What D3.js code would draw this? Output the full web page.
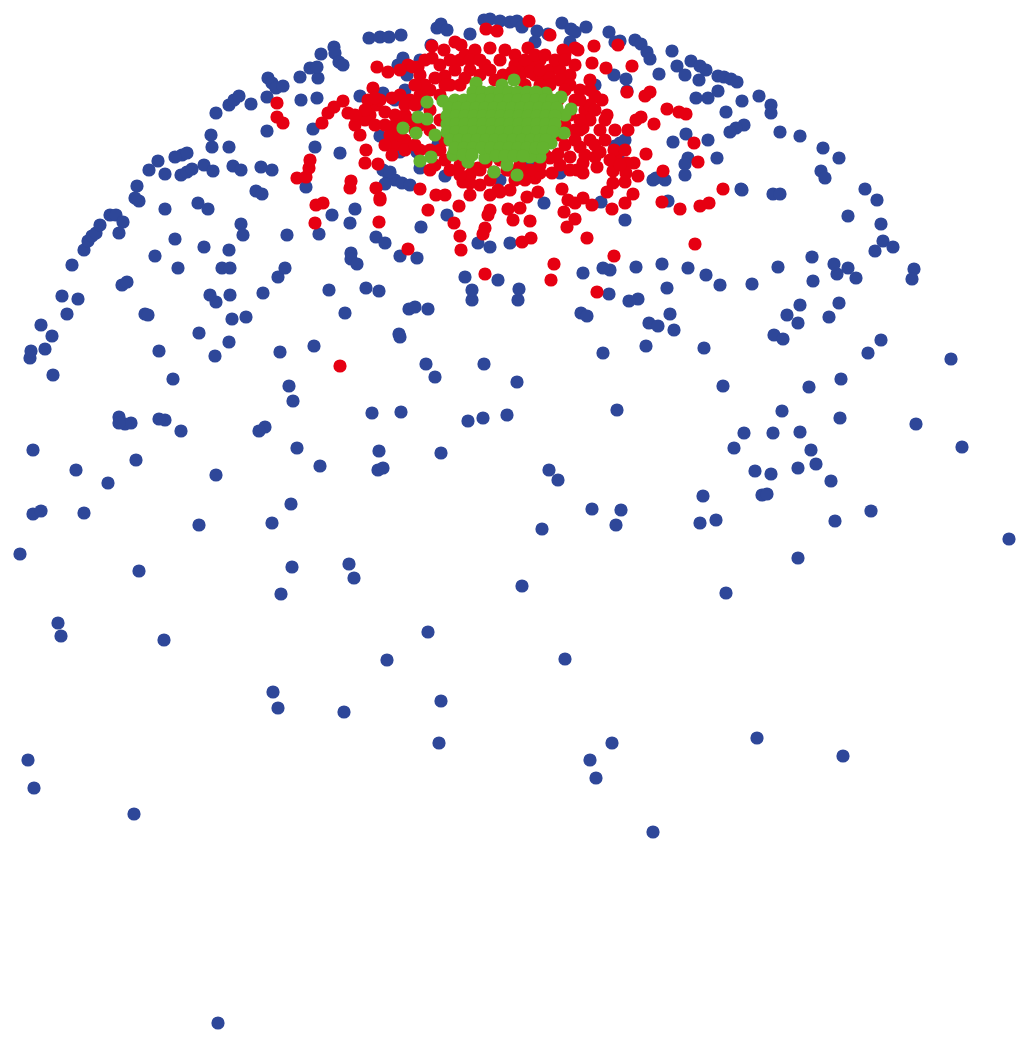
<!DOCTYPE html>
<html><head><meta charset="utf-8">
<script src="https://cdn.jsdelivr.net/npm/d3@7"></script>
<style>html,body{margin:0;padding:0;background:#fff}svg{display:block}</style></head>
<body><div id="chart"></div>
<script>
const seriesBlue = [[218,1023],[134,814],[34,788],[28,760],[653,832],[596,778],[590,760],[612,743],[757,738],[843,756],[439,743],[441,701],[344,712],[278,708],[273,692],[387,660],[428,632],[565,659],[164,640],[61,636],[58,623],[726,593],[798,558],[1009,539],[522,586],[281,594],[354,578],[349,564],[292,567],[139,571],[20,554],[33,514],[41,511],[84,513],[108,483],[76,470],[33,450],[136,460],[216,475],[199,525],[272,523],[291,504],[320,466],[297,448],[379,451],[441,453],[378,470],[383,468],[549,470],[558,480],[542,529],[592,509],[621,510],[616,525],[700,523],[716,520],[703,496],[835,521],[871,511],[831,481],[762,495],[767,494],[755,471],[771,474],[798,468],[816,464],[811,450],[734,448],[744,433],[773,433],[800,432],[782,411],[840,418],[916,424],[962,447],[809,387],[841,379],[723,386],[617,410],[517,382],[507,415],[483,418],[468,421],[401,412],[372,413],[293,401],[289,386],[265,427],[259,431],[181,431],[165,420],[159,419],[131,423],[125,424],[119,417],[119,423],[173,379],[53,375],[30,358],[31,351],[45,349],[52,336],[41,325],[67,314],[62,296],[78,299],[122,285],[127,282],[145,314],[148,315],[159,351],[199,333],[215,356],[229,342],[232,319],[246,317],[216,302],[210,295],[230,295],[263,293],[278,277],[285,268],[222,268],[230,268],[229,250],[204,247],[178,268],[155,256],[175,239],[72,265],[84,250],[88,241],[92,236],[96,233],[100,225],[110,215],[116,215],[123,222],[119,233],[165,209],[198,203],[208,209],[241,224],[243,235],[287,235],[319,234],[351,253],[351,259],[357,264],[400,256],[417,258],[376,237],[385,243],[329,290],[366,288],[379,291],[345,313],[409,309],[415,307],[428,309],[399,334],[400,337],[314,346],[280,352],[426,364],[435,377],[484,364],[603,353],[646,346],[704,348],[774,335],[783,339],[868,353],[881,340],[951,359],[829,317],[839,303],[787,315],[798,323],[800,305],[856,278],[848,268],[837,274],[834,264],[813,281],[812,257],[778,267],[752,284],[720,285],[706,275],[688,268],[662,264],[636,267],[667,288],[638,299],[629,301],[609,294],[610,270],[603,268],[583,273],[581,313],[587,316],[649,323],[658,326],[670,314],[674,330],[518,300],[519,289],[498,280],[472,300],[472,290],[465,277],[490,247],[478,243],[510,243],[421,227],[447,215],[350,223],[332,215],[355,209],[306,187],[340,153],[315,147],[313,129],[267,131],[229,147],[212,147],[211,135],[182,155],[187,153],[175,157],[158,161],[149,170],[165,174],[181,175],[187,172],[192,169],[204,165],[213,171],[233,166],[241,170],[261,167],[272,170],[256,191],[262,194],[137,186],[139,201],[135,198],[216,113],[229,105],[234,100],[239,96],[251,104],[267,97],[268,78],[272,83],[276,88],[283,86],[300,77],[301,100],[317,98],[318,78],[310,68],[317,67],[321,54],[334,47],[335,53],[339,62],[343,65],[360,96],[369,38],[380,37],[389,37],[401,35],[398,65],[403,58],[420,60],[431,45],[437,28],[441,24],[447,30],[470,34],[484,20],[490,19],[500,21],[510,22],[517,21],[522,27],[537,31],[535,42],[562,23],[571,29],[575,32],[586,27],[609,32],[615,42],[620,41],[635,40],[641,44],[647,52],[650,59],[672,51],[691,61],[700,66],[706,70],[677,66],[685,75],[699,80],[718,76],[724,77],[731,79],[737,82],[718,91],[708,98],[696,98],[659,74],[626,79],[627,91],[614,75],[726,112],[742,101],[759,96],[771,105],[771,113],[744,125],[736,128],[730,132],[708,140],[686,134],[673,142],[717,158],[688,158],[685,164],[685,175],[653,180],[665,180],[656,178],[780,132],[800,136],[823,148],[839,158],[821,171],[825,178],[865,189],[877,200],[848,216],[881,224],[883,241],[893,247],[875,251],[914,269],[912,279],[773,194],[780,194],[741,189],[742,190],[668,201],[625,220],[601,202],[544,203],[560,173],[562,170],[383,170],[389,176],[395,180],[390,172],[402,183],[410,185],[385,184],[445,176],[420,168],[417,152],[438,144],[380,136],[400,152],[418,105],[405,90],[395,100],[383,93],[407,75],[500,180],[530,165],[615,146],[620,143],[621,162],[625,140],[595,85],[570,42],[548,34]];
const seriesRed = [[340,366],[485,274],[408,249],[551,280],[554,264],[597,292],[614,256],[695,244],[587,238],[531,238],[522,242],[461,250],[460,236],[454,223],[379,222],[315,223],[316,205],[323,203],[297,178],[306,177],[309,168],[310,160],[351,181],[350,188],[366,150],[365,163],[378,164],[376,188],[380,198],[380,200],[428,210],[420,189],[436,195],[445,195],[459,206],[470,195],[480,185],[494,172],[470,183],[463,182],[498,190],[510,190],[500,192],[490,195],[527,197],[520,208],[508,209],[513,220],[530,221],[490,210],[488,215],[485,228],[483,234],[535,178],[538,192],[540,173],[552,173],[562,189],[568,200],[575,203],[564,212],[575,219],[567,227],[583,198],[592,205],[607,192],[612,209],[625,203],[633,194],[662,202],[680,209],[700,206],[709,203],[723,189],[663,171],[694,143],[698,162],[646,154],[634,163],[627,163],[638,176],[626,173],[625,182],[613,183],[613,171],[597,167],[583,173],[577,170],[583,163],[570,157],[558,154],[595,157],[600,152],[616,157],[614,150],[625,150],[580,147],[560,135],[580,130],[583,128],[628,130],[636,120],[641,117],[654,124],[667,109],[679,112],[686,114],[650,92],[645,96],[627,92],[607,115],[605,120],[602,100],[595,96],[590,90],[590,80],[592,63],[606,68],[618,45],[594,46],[632,66],[578,50],[575,48],[563,50],[565,54],[529,21],[486,29],[497,31],[550,35],[455,42],[461,45],[444,50],[432,46],[432,58],[418,67],[408,65],[413,67],[420,75],[445,76],[460,60],[465,55],[475,50],[490,48],[528,48],[515,55],[522,70],[530,65],[540,60],[550,70],[560,70],[570,75],[545,80],[535,75],[525,85],[515,65],[490,70],[480,75],[470,70],[465,78],[450,85],[440,95],[430,90],[420,95],[410,100],[405,115],[400,125],[415,130],[405,140],[395,145],[392,155],[405,150],[420,150],[430,170],[445,160],[455,150],[460,165],[470,175],[486,162],[500,160],[520,165],[530,170],[545,155],[570,115],[575,100],[585,110],[590,120],[558,100],[376,105],[370,115],[365,120],[355,125],[360,135],[395,115],[380,100],[390,135],[385,145],[400,95],[430,110],[440,120],[565,145],[590,140],[600,130],[615,130],[377,67],[388,72],[373,88],[343,101],[334,107],[328,113],[322,123],[348,113],[277,103],[277,117],[283,123],[368,100],[392,98],[473,170],[478,168],[507,170],[550,158],[522,170],[525,60],[535,55],[545,55],[555,60],[565,60],[575,65],[530,72],[540,70],[550,78],[560,80],[570,85],[520,78],[512,72],[503,75],[495,80],[485,65],[455,70],[460,85],[445,85],[435,78],[425,85],[415,85],[405,105],[415,105],[425,100],[410,120],[420,125],[430,130],[395,125],[385,125],[375,125],[385,112],[375,98],[365,110],[355,115],[400,135],[415,145],[430,150],[440,150],[445,140],[435,165],[450,170],[460,175],[480,170],[490,180],[510,170],[515,180],[525,180],[540,165],[560,165],[570,170],[565,125],[575,130],[580,120],[575,140],[585,155],[595,145],[605,140],[610,160],[620,165],[590,105],[580,90],[565,90],[550,85],[540,85],[400,70],[425,60],[440,65],[450,60],[470,60],[480,60],[500,60],[505,50],[595,110],[580,100]];
const seriesGreen = [[427,102],[443,101],[418,117],[427,119],[403,128],[416,133],[435,135],[420,161],[431,157],[468,162],[494,172],[517,175],[507,165],[514,80],[476,83],[502,85],[546,93],[561,97],[571,109],[565,115],[564,133],[551,143],[540,157],[530,157],[485,158],[453,155],
[473,92],[482,92],[491,92],[500,92],[509,92],[518,92],[527,92],[536,92],
[455,100],[464,100],[473,100],[482,100],[491,100],[500,100],[509,100],[518,100],[527,100],[536,100],[545,100],[552,100],
[449,108],[458,108],[467,108],[476,108],[485,108],[494,108],[503,108],[512,108],[521,108],[530,108],[539,108],[548,108],[557,108],
[447,116],[456,116],[465,116],[474,116],[483,116],[492,116],[501,116],[510,116],[519,116],[528,116],[537,116],[546,116],[555,116],
[447,124],[456,124],[465,124],[474,124],[483,124],[492,124],[501,124],[510,124],[519,124],[528,124],[537,124],[546,124],[555,124],
[447,132],[456,132],[465,132],[474,132],[483,132],[492,132],[501,132],[510,132],[519,132],[528,132],[537,132],[546,132],[553,132],
[450,140],[459,140],[468,140],[477,140],[486,140],[495,140],[504,140],[513,140],[522,140],[531,140],[540,140],[546,140],
[455,148],[464,148],[473,148],[482,148],[491,148],[500,148],[509,148],[518,148],[527,148],[536,148],[543,148],
[463,155],[472,155],[496,156],[505,156],[514,156],[523,156]];

const width = 1024, height = 1040, radius = 6.6;
const x = d3.scaleLinear().domain([0, 1024]).range([0, width]);
const y = d3.scaleLinear().domain([0, 1040]).range([0, height]);
const svg = d3.select('#chart').append('svg').attr('width', width).attr('height', height);
[['blue', seriesBlue, '#2e4799'], ['red', seriesRed, '#e60012'], ['green', seriesGreen, '#63b32e']].forEach(([name, pts, color]) => {
  svg.append('g').attr('class', name).attr('fill', color)
    .selectAll('circle').data(pts).join('circle')
    .attr('cx', d => x(d[0])).attr('cy', d => y(d[1])).attr('r', radius);
});
</script></body></html>
